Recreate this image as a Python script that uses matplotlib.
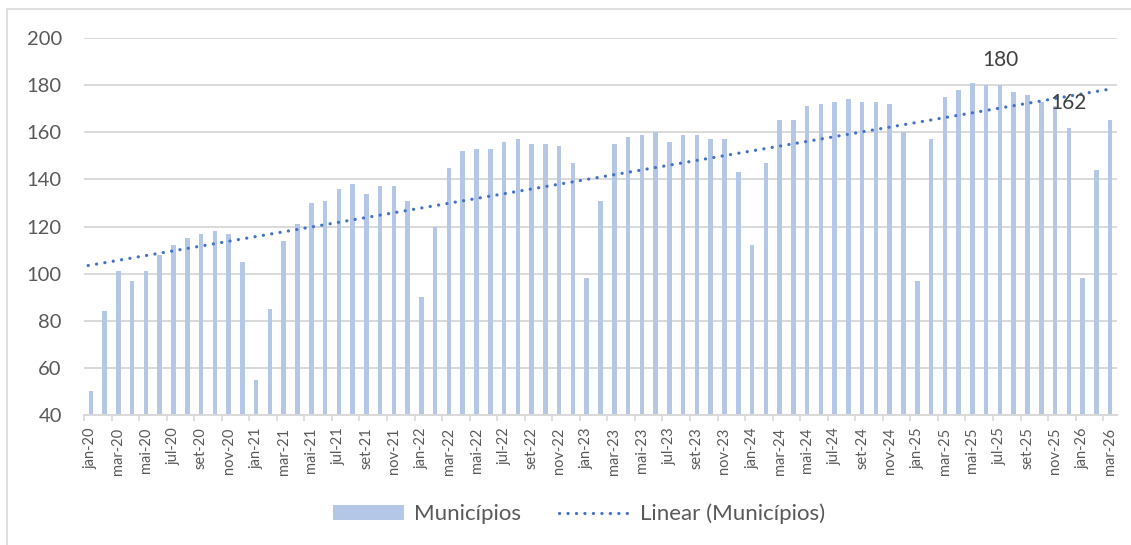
import matplotlib
matplotlib.use("Agg")
import matplotlib.pyplot as plt
import numpy as np
from matplotlib.patches import Rectangle
from matplotlib.lines import Line2D
from matplotlib.patches import Patch

months = ["jan", "fev", "mar", "abr", "mai", "jun", "jul", "ago", "set", "out", "nov", "dez"]
years = ["20", "21", "22", "23", "24", "25", "26"]
categories = [f"{m}-{y}" for y in years for m in months][:75]

municipios = [
    50, 84, 101, 97, 101, 108, 112, 115, 117, 118, 117, 105,
    55, 85, 114, 121, 130, 131, 136, 138, 134, 137, 137, 131,
    90, 120, 145, 152, 153, 153, 156, 157, 155, 155, 154, 147,
    98, 131, 155, 158, 159, 160, 156, 159, 159, 157, 157, 143,
    112, 147, 165, 165, 171, 172, 173, 174, 173, 173, 172, 160,
    97, 157, 175, 178, 181, 180, 180, 177, 176, 173, 171, 162,
    98, 144, 165,
]
labelled = {"jul-25": "180", "dez-25": "162"}
yticks = [40, 60, 80, 100, 120, 140, 160, 180, 200]

bar_color = "#B4C7E7"
trend_color = "#4472C4"
grid_color = "#D9D9D9"
text_color = "#595959"
font = "Lato"

W, H = 1131, 545
fig = plt.figure(figsize=(W / 100, H / 100), dpi=100)
ax = fig.add_axes([84 / W, 1 - 415 / H, (1117 - 84) / W, (415 - 38) / H])

x = np.arange(len(categories))
ax.bar(x, municipios, width=0.33, color=bar_color, zorder=2)

# linear trend (Excel trendline, least squares over 1..n)
coef = np.polyfit(x + 1, municipios, 1)
tx = np.array([x[0] - 0.2, x[-1] + 0.2])
ax.plot(tx, np.polyval(coef, tx + 1), color=trend_color, lw=2.3,
        linestyle=(0, (0.05, 2.6)), dash_capstyle="round", zorder=3)

for cat, txt in labelled.items():
    i = categories.index(cat)
    ax.annotate(txt, (i, municipios[i]), xytext=(0, 18), textcoords="offset points",
                ha="center", va="center", fontsize=15, color="#404040", family=font, zorder=4)

ax.set_xlim(-0.5, len(categories) - 0.5)
ax.set_ylim(40, 200)
ax.set_yticks(yticks)
ax.set_yticklabels([str(v) for v in yticks], fontsize=14.5, color=text_color, family=font)
ax.tick_params(axis="y", length=0, pad=16)
ax.grid(axis="y", color=grid_color, lw=1.4, zorder=0)
ax.set_axisbelow(True)

ax.set_xticks(x[::2])
ax.set_xticklabels(categories[::2], rotation=90, fontsize=10.5, color=text_color, family=font)
ax.tick_params(axis="x", which="major", length=0, pad=9)
ax.set_xticks(np.arange(-0.5, len(categories), 2), minor=True)
ax.tick_params(axis="x", which="minor", length=4, color=grid_color, width=1.2)

for s in ["left", "right", "top"]:
    ax.spines[s].set_visible(False)
ax.spines["bottom"].set_color(grid_color)
ax.spines["bottom"].set_linewidth(1.4)

handles = [Patch(facecolor=bar_color, edgecolor="none"),
           Line2D([0], [0], color=trend_color, lw=2.3, linestyle=(0, (0.05, 2.6)), dash_capstyle="round")]
leg = fig.legend(handles, ["Municípios", "Linear (Municípios)"], loc="center",
                 bbox_to_anchor=(579 / W, 1 - 514 / H), ncol=2, frameon=False,
                 prop={"family": font, "size": 16}, handlelength=3.2, handleheight=0.6,
                 handletextpad=0.45, columnspacing=1.7)
for t in leg.get_texts():
    t.set_color(text_color)

fig.patches.append(Rectangle((7 / W, -0.02), 1.1, 1 - 9 / H + 0.02, transform=fig.transFigure,
                             fill=False, edgecolor=grid_color, lw=1.2))

fig.savefig("out.png", dpi=100, facecolor="white")
